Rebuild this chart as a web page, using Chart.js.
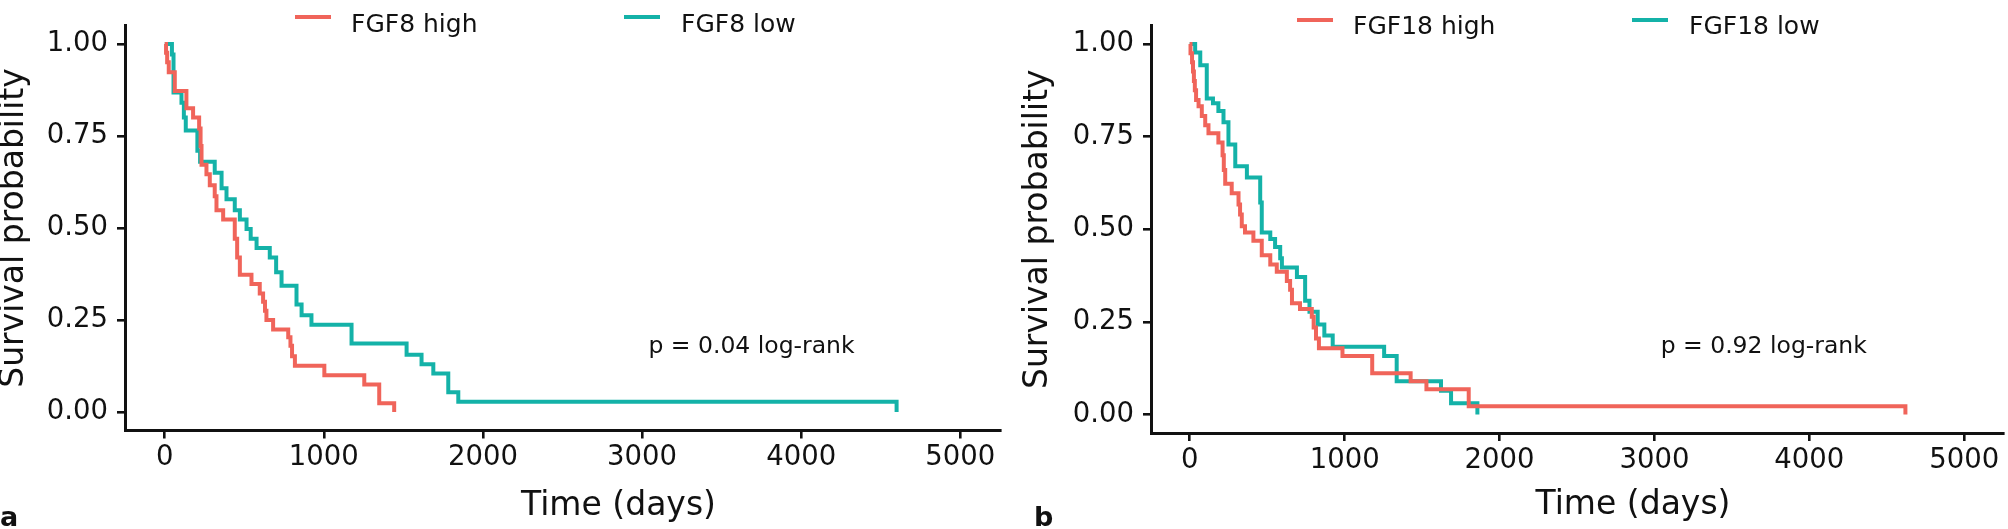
<!DOCTYPE html>
<html lang="en">

<head>
    <meta charset="UTF-8">
    <title>Kaplan-Meier FGF8 / FGF18</title>
    <script src="https://cdn.jsdelivr.net/npm/chart.js"></script>
    <style>
        html, body { margin: 0; padding: 0; background: #fff; overflow: hidden; }
        .panel { position: absolute; top: 0; }
    </style>
</head>

<body>
    <canvas id="chartA" class="panel" width="1004" height="529" style="left:0"></canvas>
    <canvas id="chartB" class="panel" width="1004" height="529" style="left:1004px"></canvas>
    <script>
        // ---- data ----
        const xTicks = [0, 1000, 2000, 3000, 4000, 5000];
        const yTicks = [0, 0.25, 0.5, 0.75, 1];

        // panel a: FGF8
        const labelsA = ['FGF8 high', 'FGF8 low'];
        const aHighTime = [0, 8, 15, 25, 63, 136, 178, 216, 225, 231, 262, 283, 314, 325, 367, 440, 455, 472, 545, 597, 618, 630, 639, 681, 776, 790, 800, 818, 1003, 1254, 1348, 1442];
        const aHighSurv = [1, 0.976, 0.95, 0.923, 0.872, 0.825, 0.8, 0.77, 0.723, 0.672, 0.646, 0.616, 0.586, 0.548, 0.523, 0.471, 0.42, 0.373, 0.348, 0.322, 0.3, 0.275, 0.25, 0.224, 0.203, 0.18, 0.152, 0.126, 0.1, 0.075, 0.024, 0];
        const aLowTime = [0, 45, 55, 105, 120, 132, 205, 222, 314, 357, 388, 440, 472, 514, 540, 577, 660, 700, 734, 828, 860, 922, 1174, 1520, 1614, 1688, 1782, 1845, 4600];
        const aLowSurv = [1, 0.971, 0.868, 0.84, 0.8, 0.765, 0.71, 0.68, 0.65, 0.608, 0.578, 0.548, 0.523, 0.497, 0.471, 0.446, 0.42, 0.38, 0.343, 0.292, 0.263, 0.237, 0.186, 0.156, 0.13, 0.105, 0.054, 0.028, 0];
        const pvalA = 'p = 0.04 log-rank';

        // panel b: FGF18
        const labelsB = ['FGF18 high', 'FGF18 low'];
        const bHighTime = [0, 5, 15, 21, 27, 33, 41, 57, 78, 100, 121, 185, 212, 220, 229, 271, 315, 325, 336, 357, 411, 465, 520, 562, 627, 648, 660, 712, 788, 800, 815, 834, 986, 1178, 1426, 1528, 1801, 4620];
        const bHighSurv = [1, 0.975, 0.951, 0.926, 0.9, 0.875, 0.849, 0.832, 0.806, 0.781, 0.759, 0.734, 0.7, 0.66, 0.623, 0.597, 0.567, 0.54, 0.508, 0.491, 0.469, 0.43, 0.405, 0.385, 0.36, 0.337, 0.3, 0.285, 0.264, 0.235, 0.205, 0.179, 0.158, 0.111, 0.09, 0.068, 0.022, 0];
        const bLowTime = [0, 35, 68, 110, 150, 185, 218, 250, 294, 369, 455, 465, 520, 551, 584, 595, 692, 745, 773, 826, 869, 923, 1255, 1336, 1622, 1687, 1857];
        const bLowSurv = [1, 0.977, 0.943, 0.853, 0.84, 0.819, 0.789, 0.729, 0.67, 0.64, 0.572, 0.491, 0.474, 0.452, 0.422, 0.397, 0.371, 0.307, 0.277, 0.243, 0.213, 0.183, 0.158, 0.09, 0.064, 0.03, 0];
        const pvalB = 'p = 0.92 log-rank';

        const RED = '#F0645A';
        const TEAL = '#14B2A8';
        const INK = '#111';
        const FONT = "'DejaVu Sans', 'Liberation Sans', Arial, sans-serif";

        function toPoints(times, surv) {
            return times.map((t, i) => ({ x: t, y: surv[i] }));
        }

        // legend, p-value, x title and panel letter drawn on top
        const kmDecor = {
            id: 'kmDecor',
            afterDraw(chart, args, o) {
                const { ctx, chartArea, scales } = chart;
                ctx.save();
                ctx.fillStyle = INK;
                ctx.textBaseline = 'alphabetic';
                ctx.textAlign = 'left';

                // legend keys
                ctx.font = '25px ' + FONT;
                o.legend.forEach(item => {
                    ctx.strokeStyle = item.color;
                    ctx.lineWidth = 4;
                    ctx.beginPath();
                    ctx.moveTo(item.x, o.legendLineY);
                    ctx.lineTo(item.x + 36, o.legendLineY);
                    ctx.stroke();
                    ctx.fillText(item.text, item.textX, o.legendTextY);
                });

                // p-value
                ctx.font = '23.5px ' + FONT;
                ctx.fillText(o.pval, scales.x.getPixelForValue(o.pvalAt[0]), scales.y.getPixelForValue(o.pvalAt[1]));

                // x axis title
                ctx.font = '33px ' + FONT;
                ctx.textAlign = 'center';
                ctx.fillText('Time (days)', (chartArea.left + chartArea.right) / 2 + 56, o.xTitleY);

                // panel letter
                ctx.font = 'bold 27px ' + FONT;
                ctx.textAlign = 'left';
                ctx.fillText(o.letter, o.letterX, 526);
                ctx.restore();
            }
        };

        function makeChart(id, cfg) {
            const ctx = document.getElementById(id).getContext('2d');
            return new Chart(ctx, {
                type: 'line',
                data: {
                    datasets: [{
                        label: cfg.labels[0],
                        data: toPoints(cfg.high[0], cfg.high[1]),
                        borderColor: RED,
                        borderWidth: 4,
                        pointRadius: 0,
                        stepped: true,
                        fill: false
                    }, {
                        label: cfg.labels[1],
                        data: toPoints(cfg.low[0], cfg.low[1]),
                        borderColor: TEAL,
                        borderWidth: 4,
                        pointRadius: 0,
                        stepped: true,
                        fill: false
                    }]
                },
                options: {
                    responsive: false,
                    animation: false,
                    devicePixelRatio: 1,
                    layout: { padding: cfg.padding },
                    plugins: {
                        legend: { display: false },
                        tooltip: { enabled: false },
                        kmDecor: {
                            legend: [
                                { text: cfg.labels[0], color: RED, x: cfg.legendX[0], textX: cfg.legendX[0] + 56 },
                                { text: cfg.labels[1], color: TEAL, x: cfg.legendX[1], textX: cfg.legendX[1] + 57 }
                            ],
                            legendLineY: cfg.legendLineY,
                            legendTextY: cfg.legendTextY,
                            pval: cfg.pval,
                            pvalAt: cfg.pvalAt,
                            xTitleY: cfg.xTitleY,
                            letter: cfg.letter,
                            letterX: cfg.letterX
                        }
                    },
                    scales: {
                        x: {
                            type: 'linear',
                            min: -250,
                            max: 5250,
                            afterBuildTicks: s => { s.ticks = xTicks.map(v => ({ value: v })); },
                            afterFit: s => { s.height = cfg.xHeight; },
                            ticks: {
                                color: INK,
                                font: { family: FONT, size: 27.5 },
                                padding: 3,
                                maxRotation: 0,
                                autoSkip: false,
                                callback: v => String(v)
                            },
                            grid: { drawOnChartArea: false, drawTicks: true, tickLength: 8, color: INK, lineWidth: 2.6 },
                            border: { display: true, color: INK, width: 3 }
                        },
                        y: {
                            min: -0.05,
                            max: 1.05,
                            afterBuildTicks: s => { s.ticks = yTicks.map(v => ({ value: v })); },
                            afterFit: s => { s.width = cfg.yWidth; },
                            ticks: {
                                color: INK,
                                font: { family: FONT, size: 27.5 },
                                padding: 9,
                                callback: v => v.toFixed(2)
                            },
                            grid: { drawOnChartArea: false, drawTicks: true, tickLength: 8, color: INK, lineWidth: 2.6 },
                            border: { display: true, color: INK, width: 3 },
                            title: {
                                display: true,
                                text: 'Survival probability',
                                color: INK,
                                font: { family: FONT, size: 33, lineHeight: 0.8 },
                                padding: { top: cfg.yTitlePad, bottom: 0 }
                            }
                        }
                    }
                },
                plugins: [kmDecor]
            });
        }

        makeChart('chartA', {
            labels: labelsA,
            high: [aHighTime, aHighSurv],
            low: [aLowTime, aLowSurv],
            pval: pvalA,
            pvalAt: [3040, 0.16],
            padding: { left: 0, right: 4, top: 0.5, bottom: 0 },
            xHeight: 98.5,
            yWidth: 125,
            yTitlePad: 1,
            legendX: [295, 624],
            legendLineY: 17,
            legendTextY: 31.5,
            xTitleY: 515,
            letter: 'a',
            letterX: 0
        });

        makeChart('chartB', {
            labels: labelsB,
            high: [bHighTime, bHighSurv],
            low: [bLowTime, bLowSurv],
            pval: pvalB,
            pvalAt: [3040, 0.167],
            padding: { left: 0, right: 5, top: 4.5, bottom: 0 },
            xHeight: 96,
            yWidth: 147,
            yTitlePad: 21.5,
            legendX: [293, 628],
            legendLineY: 20,
            legendTextY: 34,
            xTitleY: 514,
            letter: 'b',
            letterX: 30
        });
    </script>
</body>

</html>
